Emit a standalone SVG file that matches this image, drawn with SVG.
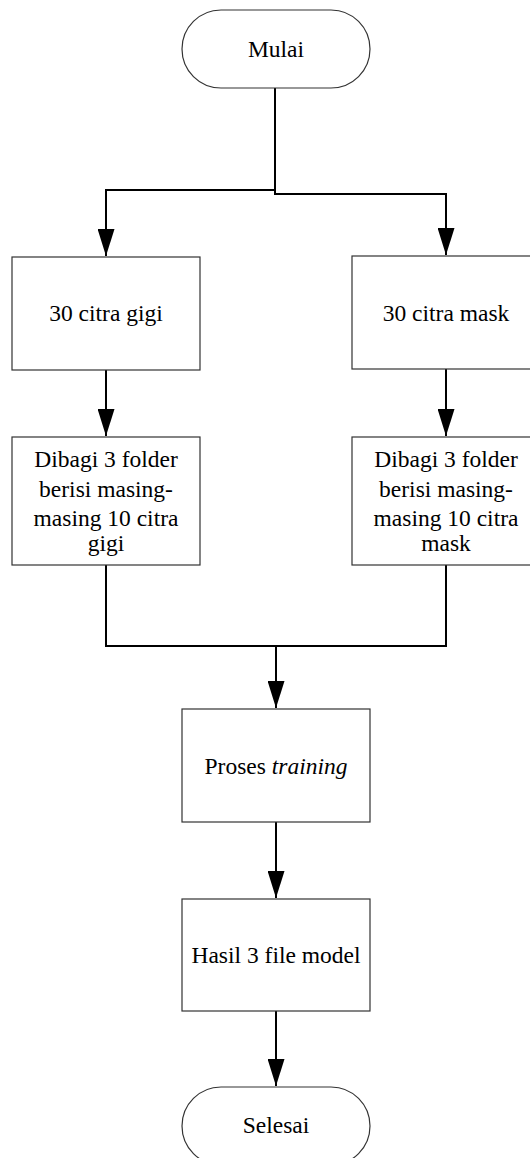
<svg xmlns="http://www.w3.org/2000/svg" width="530" height="1158" viewBox="0 0 530 1158">
<style>
.box{fill:#fff;stroke:#333;stroke-width:1.2}
.t{font-family:"Liberation Serif","Times New Roman",serif;font-size:23.5px;fill:#000;text-anchor:middle}
.c{fill:none;stroke:#000;stroke-width:2}
</style>
<defs>
<marker id="ah" markerWidth="27" markerHeight="17" refX="27" refY="8.5" orient="auto" markerUnits="userSpaceOnUse" viewBox="0 0 27 17">
<path d="M0,0 L27,8.5 L0,17 Z" fill="#000"/>
</marker>
</defs>
<rect width="530" height="1158" fill="#fff"/>
<g id="connectors">
<path class="c" d="M275,88 V194 H446 V255" marker-end="url(#ah)"/>
<path class="c" d="M275,190 H106 V256" marker-end="url(#ah)"/>
<path class="c" d="M106,370 V436" marker-end="url(#ah)"/>
<path class="c" d="M446,369 V436" marker-end="url(#ah)"/>
<path class="c" d="M106,565 V646 H446 V565"/>
<path class="c" d="M276,646 V708" marker-end="url(#ah)"/>
<path class="c" d="M276,822 V898" marker-end="url(#ah)"/>
<path class="c" d="M276,1011 V1086" marker-end="url(#ah)"/>
</g>
<g id="mulai">
<rect class="box" x="182" y="10" width="188" height="78" rx="39"/>
<text class="t" x="276" y="57">Mulai</text>
</g>
<g id="citra-gigi">
<rect class="box" x="12" y="257" width="188" height="113"/>
<text class="t" x="106" y="321">30 citra gigi</text>
</g>
<g id="citra-mask">
<rect class="box" x="352" y="256" width="188" height="113"/>
<text class="t" x="446" y="321">30 citra mask</text>
</g>
<g id="bagi-gigi">
<rect class="box" x="12" y="437" width="188" height="128"/>
<text class="t" x="106" y="467">Dibagi 3 folder</text>
<text class="t" x="106" y="497">berisi masing-</text>
<text class="t" x="106" y="526">masing 10 citra</text>
<text class="t" x="106" y="551">gigi</text>
</g>
<g id="bagi-mask">
<rect class="box" x="352" y="437" width="188" height="128"/>
<text class="t" x="446" y="467">Dibagi 3 folder</text>
<text class="t" x="446" y="497">berisi masing-</text>
<text class="t" x="446" y="526">masing 10 citra</text>
<text class="t" x="446" y="551">mask</text>
</g>
<g id="training">
<rect class="box" x="182" y="709" width="188" height="113"/>
<text class="t" x="276" y="774">Proses <tspan font-style="italic">training</tspan></text>
</g>
<g id="hasil">
<rect class="box" x="182" y="899" width="188" height="112"/>
<text class="t" x="276" y="963">Hasil 3 file model</text>
</g>
<g id="selesai">
<rect class="box" x="182" y="1087" width="188" height="78" rx="39"/>
<text class="t" x="276" y="1133">Selesai</text>
</g>
</svg>
